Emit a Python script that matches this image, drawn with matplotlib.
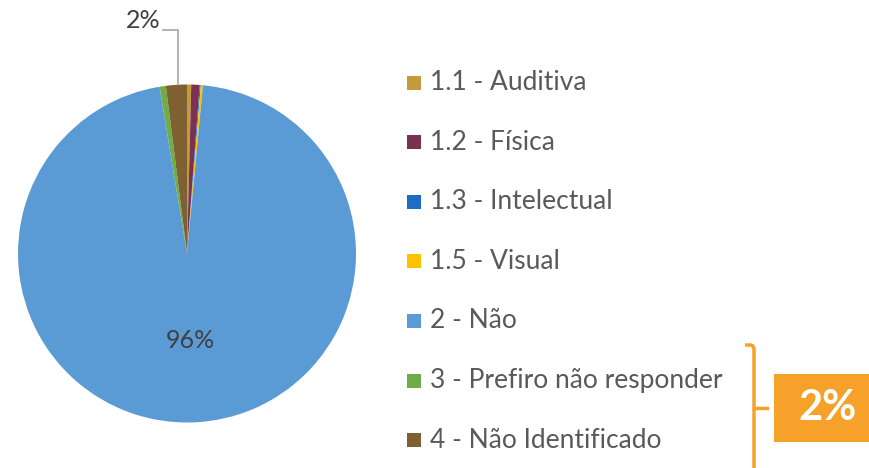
import matplotlib
matplotlib.use("Agg")
import matplotlib.pyplot as plt
from matplotlib.patches import Rectangle
from matplotlib.path import Path
from matplotlib.patches import PathPatch

categories = ["1.1 - Auditiva", "1.2 - Física", "1.3 - Intelectual", "1.5 - Visual",
              "2 - Não", "3 - Prefiro não responder", "4 - Não Identificado"]
values = [0.4, 0.8, 0.1, 0.2, 95.9, 0.6, 2.0]
colors = ["#C49A3C", "#7A3152", "#1F6CC4", "#FFC000", "#5B9BD5", "#70AD47", "#7E6031"]
shown_labels = {4: "96%", 6: "2%"}
bracket_label = "2%"

W, H = 869, 468
fig = plt.figure(figsize=(W / 100, H / 100), dpi=100)
ax = fig.add_axes([0, 0, 1, 1])

cx, cy, r = 187, H - 253.5, 169
wedges, _ = ax.pie(values, colors=colors, startangle=90, counterclock=False,
                   center=(cx, cy), radius=r, wedgeprops=dict(linewidth=0))
ax.set_xlim(0, W)
ax.set_ylim(0, H)
ax.set_aspect("equal")
ax.axis("off")

font = ["Lato", "DejaVu Sans"]
txt_color = "#595959"

# data labels
ax.text(190, H - 340, shown_labels[4], ha="center", va="center", fontsize=18,
        color="#404040", family=font)
ax.text(143, H - 21, shown_labels[6], ha="center", va="center", fontsize=18,
        color="#404040", family=font)
ax.plot([163, 178, 178], [H - 30, H - 30, H - 84], color="#A6A6A6", lw=1.2,
        solid_joinstyle="miter")

# legend
y0, dy = 82.5, 59.6
for i, (lab, col) in enumerate(zip(categories, colors)):
    yc = y0 + i * dy
    ax.add_patch(Rectangle((407, H - yc - 7), 14, 14, facecolor=col, edgecolor="none"))
    ax.text(430, H - yc, lab, ha="left", va="center", fontsize=19, color=txt_color,
            family=font)

# bracket
orange = "#F5A12A"
verts = [(745, H - 345), (750, H - 345), (754, H - 345), (754, H - 350), (754, H - 470)]
codes = [Path.MOVETO, Path.LINETO, Path.CURVE3, Path.CURVE3, Path.LINETO]
ax.add_patch(PathPatch(Path(verts, codes), facecolor="none", edgecolor=orange, lw=2.5))
ax.plot([754, 767], [H - 408, H - 408], color=orange, lw=2.5)
ax.add_patch(Rectangle((774, H - 442), 100, 68, facecolor=orange, edgecolor="none"))
ax.text(828, H - 408, bracket_label, ha="center", va="center", fontsize=30,
        color="white", fontweight="bold", family=font)

fig.savefig("out.png", dpi=100)
